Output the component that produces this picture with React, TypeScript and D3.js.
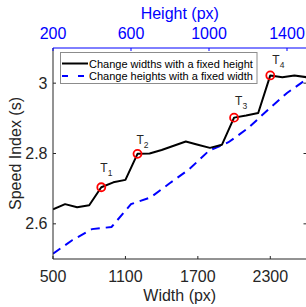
import React from "react";
import * as d3 from "d3";

const widths = [500, 600, 700, 800, 900, 1000, 1100, 1200, 1300, 1400, 1500, 1600, 1700, 1800, 1900, 2000, 2100, 2200, 2300, 2400, 2500, 2600];
const speedByWidth = [2.641, 2.656, 2.647, 2.653, 2.704, 2.718, 2.725, 2.799, 2.800, 2.810, 2.822, 2.834, 2.825, 2.816, 2.825, 2.902, 2.908, 2.915, 3.022, 3.017, 3.022, 3.017];
const heights = [200, 300, 400, 500, 600, 700, 800, 900, 1000, 1100, 1200, 1300, 1400, 1500];
const speedByHeight = [2.515, 2.554, 2.585, 2.591, 2.656, 2.675, 2.716, 2.756, 2.808, 2.832, 2.872, 2.923, 2.972, 3.011];
const highlightWidths = [900, 1200, 2000, 2300];
const highlightLabels = ["1", "2", "3", "4"];
const labelOffsets: [number, number][] = [[-1, -15], [-1, -10], [1, -13], [2, -11]];
const widthTicks = [500, 1100, 1700, 2300];
const heightTicks = [200, 600, 1000, 1400];
const speedTicks = [2.6, 2.8, 3];

const legendLabels = ["Change widths with a fixed height", "Change heights with a fixed width"];

export default function App() {
  const L = 53, R = 306.5, T = 48, B = 259;
  const x = d3.scaleLinear().domain([500, 2600]).range([L, R]);
  const xTop = d3.scaleLinear().domain([200, 1500]).range([L, R]);
  const y = d3.scaleLinear().domain([2.5, 3.1]).range([B, T]);
  const axisColor = "#262626";
  const blue = "#0000ff";
  const font = "'Liberation Sans', Arial, sans-serif";

  const lineW = d3.line<number>().x((_, i) => x(widths[i])).y((d) => y(d));
  const lineH = d3.line<number>().x((_, i) => xTop(heights[i])).y((d) => y(d));

  const tick = 3;
  return (
    <svg width={306} height={307} style={{ position: "absolute", left: 0, top: 0 }} fontFamily={font}>
      <rect x={0} y={0} width={306} height={307} fill="#fff" />
      <defs>
        <clipPath id="plot">
          <rect x={L} y={T} width={R - L} height={B - T} />
        </clipPath>
      </defs>
      {/* data */}
      <g clipPath="url(#plot)">
        <path d={lineH(speedByHeight) || ""} fill="none" stroke={blue} strokeWidth={2} strokeDasharray="9,6" />
        <path d={lineW(speedByWidth) || ""} fill="none" stroke="#000" strokeWidth={2} strokeLinejoin="round" />
      </g>
      {highlightWidths.map((w, i) => {
        const v = speedByWidth[widths.indexOf(w)];
        const cx = x(w), cy = y(v);
        const [dx, dy] = labelOffsets[i];
        return (
          <g key={w}>
            <circle cx={cx} cy={cy} r={4} fill="none" stroke="#ff0000" strokeWidth={1.8} />
            <text x={cx + dx} y={cy + dy} fontSize={12} fill={axisColor}>
              T<tspan fontSize={8.5} dy={4}>{highlightLabels[i]}</tspan>
            </text>
          </g>
        );
      })}
      {/* bottom axis */}
      <line x1={L} x2={R} y1={B} y2={B} stroke={axisColor} />
      {widthTicks.map((t) => (
        <g key={"b" + t}>
          <line x1={x(t)} x2={x(t)} y1={B} y2={B - tick} stroke={axisColor} />
          <text x={x(t)} y={281.5} fontSize={16} textAnchor="middle" fill={axisColor}>{t}</text>
        </g>
      ))}
      <text x={(L + R) / 2} y={300.5} fontSize={16} textAnchor="middle" fill={axisColor}>Width (px)</text>
      {/* left axis */}
      <line x1={L} x2={L} y1={T} y2={B} stroke={axisColor} />
      {speedTicks.map((t) => (
        <g key={"l" + t}>
          <line x1={L} x2={L + tick} y1={y(t)} y2={y(t)} stroke={axisColor} />
          <line x1={R} x2={R - tick} y1={y(t)} y2={y(t)} stroke={axisColor} />
          <text x={47.5} y={y(t)} dy="0.35em" fontSize={16} textAnchor="end" fill={axisColor}>{t === 3 ? "3" : t.toFixed(1)}</text>
        </g>
      ))}
      <text transform={`translate(15,${(T + B) / 2}) rotate(-90)`} dy="0.35em" fontSize={16} textAnchor="middle" fill={axisColor}>Speed Index (s)</text>
      <line x1={R} x2={R} y1={T} y2={B} stroke={axisColor} />
      {/* top axis */}
      <line x1={L} x2={R} y1={T} y2={T} stroke={blue} />
      {heightTicks.map((t) => (
        <g key={"t" + t}>
          <line x1={xTop(t)} x2={xTop(t)} y1={T} y2={T + tick} stroke={blue} />
          <text x={xTop(t)} y={39} fontSize={16} textAnchor="middle" fill={blue}>{t}</text>
        </g>
      ))}
      <text x={(L + R) / 2} y={18.5} fontSize={16} textAnchor="middle" fill={blue}>Height (px)</text>
      {/* legend */}
      <rect x={60.5} y={52.5} width={196.5} height={31} fill="#fff" stroke="#8c8c8c" strokeWidth={1} />
      <line x1={62} x2={88} y1={63.5} y2={63.5} stroke="#000" strokeWidth={2} />
      <line x1={62} x2={88} y1={76} y2={76} stroke={blue} strokeWidth={2} strokeDasharray="6,10" />
      <text x={89} y={67.5} fontSize={11} fill="#000">{legendLabels[0]}</text>
      <text x={89} y={80} fontSize={11} fill="#000">{legendLabels[1]}</text>
    </svg>
  );
}
